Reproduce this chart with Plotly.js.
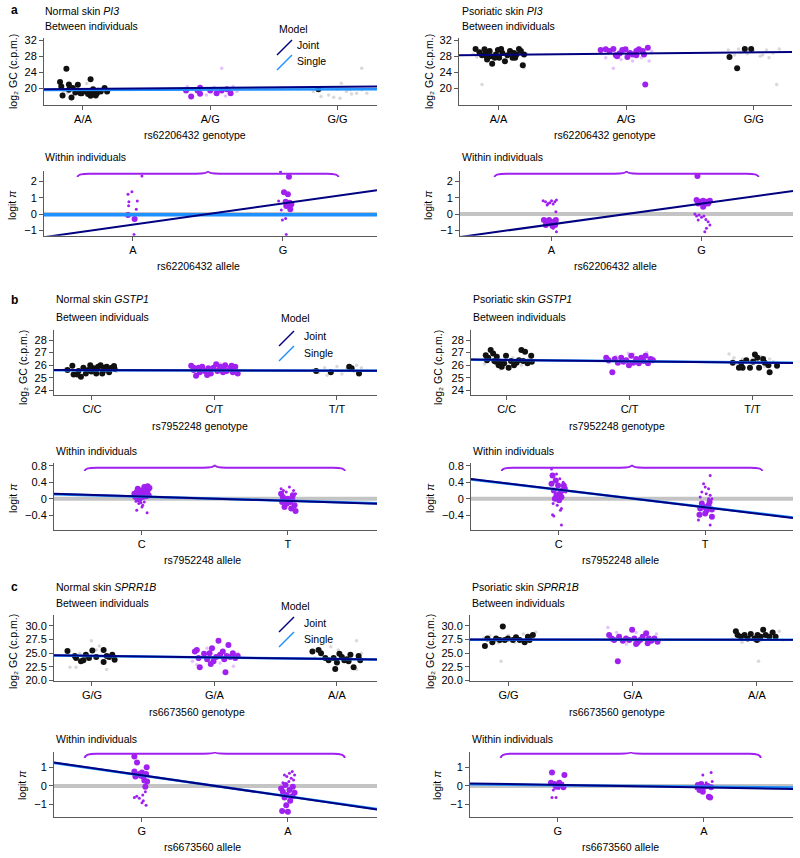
<!DOCTYPE html>
<html><head><meta charset="utf-8">
<script src="https://cdn.plot.ly/plotly-3.0.1.min.js"></script>
<style>html,body{margin:0;padding:0;background:#fff}#chart{width:800px;height:858px}</style>
</head><body><div id="chart"></div>
<script>
// ---------- categories ----------
const pi3Genotypes = ['A/A','A/G','G/G'];
const pi3Alleles = ['A','G'];
const gstp1Genotypes = ['C/C','C/T','T/T'];
const gstp1Alleles = ['C','T'];
const sprr1bGenotypes = ['G/G','G/A','A/A'];
const sprr1bAlleles = ['G','A'];

// ---------- PI3 normal, between individuals (jitter, log2 GC) per genotype ----------
const p1BigJ = [[-0.18,-0.17,-0.16,-0.13,-0.11,-0.11,-0.09,-0.08,-0.06,-0.04,-0.02,-0.01,0.04,0.06,0.08,0.06,0.08,0.11,0.14,0.17,0.19,0.045,0.10,0.02],[-0.19,-0.15,-0.10,-0.08,-0.08,0.0,0.05,0.09,0.16,0.13],[-0.15]];
const p1BigV = [[21.6,20.5,18.25,24.9,21.0,19.7,17.75,20.1,19.0,20.9,18.8,18.8,18.6,22.3,19.8,18.2,18.8,18.8,19.25,20.1,19.25,19.1,18.25,19.3],[19.5,18.0,19.5,18.7,20.2,19.5,18.8,19.5,18.8,19.8],[19.8]];
const p1SmallJ = [[-0.15,-0.05,0.03,0.12,0.18,-0.12],[0.09,0.05,0.18,-0.13,-0.03,0.03,0.12,0.21,-0.18,-0.09],[-0.19,-0.13,-0.07,-0.03,0.0,0.03,0.07,0.11,0.15,0.19,0.19,0.23,0.02,0.1]];
const p1SmallV = [[19.3,20.3,21.2,19.9,18.9,18.9],[25.0,19.7,20.5,19.8,18.4,20.3,18.1,19.25,20.5,19.8],[19.25,18.0,18.4,17.8,19.8,21.3,19.25,18.6,18.8,19.7,25.0,18.8,17.6,19.7]];
const p1Joint = [19.88,20.42];
const p1Single = [19.62,19.78];

// ---------- PI3 psoriatic, between ----------
const p2BigJ = [[-0.18,-0.15,-0.13,-0.10,-0.09,-0.07,-0.06,-0.05,-0.02,-0.005,0.005,0.03,0.05,0.07,0.09,0.11,0.12,0.14,0.16,0.175,0.19,0.2,0.13,-0.094,-0.03,0.02,-0.11],[-0.2,-0.16,-0.13,-0.1,-0.08,-0.05,-0.03,-0.005,0.01,0.03,0.05,0.08,0.1,0.13,0.14,0.17,0.15,0.08,-0.07],[-0.19,-0.13,-0.07,-0.02]];
const p2BigV = [[29.8,29.0,28.2,28.8,27.2,29.25,28.0,26.1,28.4,29.5,27.6,28.8,26.75,28.2,29.25,27.6,28.8,28.4,29.8,29.25,25.75,28.4,27.6,28.0,27.6,29.8,29.7],[29.5,29.7,29.25,29.8,28.2,28.7,29.5,29.7,27.8,28.8,28.4,29.25,29.7,29.25,28.4,30.1,21.0,28.2,28.0],[27.8,25.0,29.8,29.8]];
const p2SmallJ = [[-0.2,-0.17,-0.12,-0.05,0.0,0.08,0.15,0.22,0.2,-0.13],[-0.1,-0.04,0.05,-0.16,0.18,0.12,-0.2,0.2],[-0.2,-0.15,-0.1,-0.05,0.0,0.05,0.1,0.15,0.2,0.18,0.07,-0.12,0.12]];
const p2SmallV = [[28.5,27.8,29.4,28.9,28.0,29.0,27.9,28.6,25.1,21.0],[25.0,27.2,26.8,27.6,26.8,27.6,28.8,29.2],[29.5,28.3,29.0,28.6,29.2,28.0,29.5,28.8,29.8,21.0,28.3,29.8,27.6]];
const p2Joint = [28.35,28.96];
const p2Single = null;

// ---------- PI3 normal, within (jitter, logit pi) per allele ----------
const p3BigJ = [[-0.033,0.011],[0.007,0.033,0.018,0.044,0.022,0.049,0.04,0.027,0.056]];
const p3BigV = [[-0.06,-0.31],[1.33,1.22,0.76,0.69,0.49,0.29,2.29,0.55,0.6]];
const p3SmallJ = [[-0.033,-0.007,-0.027,-0.029,0.029,0.022,0.06,0.007],[-0.016,-0.029,-0.011,0.018,-0.004,0.022,0.051]];
const p3SmallV = [[1.22,1.37,0.76,0.51,0.8,0.29,2.33,-1.25],[2.6,0.8,0.25,-0.27,-0.37,-1.25,0.76]];
const p3Joint = [-0.65,0.65];
const p3Single = [-0.04,-0.04];

// ---------- PI3 psoriatic, within ----------
const p4BigJ = [[-0.051,-0.033,-0.016,0,0.016,0.029,-0.038,0.007,0.024],[-0.033,-0.022,-0.011,0,0.011,0.022,0.033,0.044,0.056,-0.027,0.011]];
const p4BigV = [[-0.37,-0.47,-0.37,-0.61,-0.47,-0.37,-0.67,-0.73,-0.67],[0.86,0.65,0.76,0.69,0.82,0.61,0.76,0.65,0.82,2.33,0.45]];
const p4SmallJ = [[-0.056,-0.04,-0.022,-0.011,0,0.011,0.022,0.033,0.029,0.033,0.011,-0.029],[-0.044,-0.033,-0.016,0,0.016,0.029,0.044,0.056,0.022,0.033,-0.022]];
const p4SmallV = [[0.82,0.76,0.65,0.69,0.82,0.61,0.76,0.86,0.14,-1.08,-0.88,0.55],[0,-0.12,-0.06,-0.2,-0.12,-0.33,-0.47,-0.67,-1.08,-0.88,-0.37]];
const p4Joint = [-0.635,0.635];
const p4Single = null;

// ---------- GSTP1 normal, between ----------
const p5BigJ = [[-0.2,-0.16,-0.15,-0.11,-0.09,-0.07,-0.05,-0.03,-0.005,0.016,0.035,0.05,0.07,0.09,0.1,0.12,0.14,0.16,0.18,0.185,-0.12,-0.014,0.084],[-0.19,-0.17,-0.15,-0.13,-0.12,-0.1,-0.08,-0.05,-0.03,-0.008,0.014,0.024,0.046,0.068,0.087,0.1,0.13,0.15,0.17,0.19,-0.06,-0.17,0.07,0.14],[-0.17,-0.05,0.1,0.12,0.18]];
const p5BigV = [[25.62,25.96,25.27,25.54,25.09,25.8,25.35,25.62,25.49,25.75,25.35,25.88,26.0,25.54,25.8,25.88,25.43,25.8,25.94,25.7,25.27,26.0,25.35],[25.96,25.62,25.17,25.8,25.43,25.88,25.54,25.75,25.35,25.8,26.07,25.54,25.88,25.7,26.0,25.54,25.8,25.43,25.88,25.35,25.22,25.8,25.43,25.96],[25.54,25.43,25.88,25.75,25.35]];
const p5SmallJ = [[-0.22,-0.1,0.0,0.12,0.2,-0.05],[-0.12,0.05,0.18,-0.02],[-0.2,-0.15,-0.1,-0.05,0.0,0.04,0.08,0.14,0.2,-0.08,0.16]];
const p5SmallV = [[25.7,25.55,25.9,25.6,25.5,25.3],[25.6,26.1,25.7,25.3],[25.6,25.4,25.8,25.5,25.9,25.3,25.7,25.5,25.8,25.2,26.0]];
const p5Joint = [25.61,25.56];
const p5Single = [25.6,25.57];

// ---------- GSTP1 psoriatic, between ----------
const p6BigJ = [[-0.17,-0.15,-0.13,-0.11,-0.1,-0.08,-0.065,-0.054,-0.04,-0.02,-0.005,0.016,0.035,0.06,0.08,0.1,0.12,0.135,0.15,0.17,0.2,0.205,-0.16,-0.087],[-0.19,-0.17,-0.14,-0.12,-0.095,-0.068,-0.05,-0.027,-0.005,0.014,0.03,0.054,0.076,0.095,0.114,0.13,0.15,0.17,0.19],[-0.16,-0.11,-0.09,-0.08,-0.05,-0.02,0.02,0.04,0.054,0.087,0.13,0.14,0.2,0.005,0.1]];
const p6BigV = [[26.8,26.6,27.2,26.94,26.33,26.68,26.0,26.28,25.88,26.15,26.76,25.8,26.33,26.0,26.2,26.4,27.2,26.33,27.07,26.15,26.76,26.28,26.4,26.28],[26.6,26.4,25.43,26.5,26.2,26.6,26.28,26.4,26.0,26.76,26.2,26.5,26.15,26.6,26.33,26.76,26.15,26.5,26.4],[26.2,25.8,26.2,25.8,26.4,25.8,26.86,26.6,25.8,26.5,26.0,25.43,25.96,26.28,26.2]];
const p6SmallJ = [[-0.18,-0.05,0.05,0.18,-0.1,0.12],[0.03,0.14,0.19,-0.11,-0.01,-0.17,0.08],[-0.19,-0.15,-0.08,0.0,0.14,0.17,0.07,-0.12,0.1,0.2]];
const p6SmallV = [[26.1,25.7,26.6,26.5,26.9,26.0],[26.9,27.0,26.6,26.7,26.95,26.2,26.1],[26.9,26.6,26.5,26.5,26.5,26.3,26.7,26.1,25.9,26.2]];
const p6Joint = [26.42,26.21];
const p6Single = [26.41,26.22];

// ---------- GSTP1 normal, within ----------
const p7BigJ = [[-0.05,-0.034,-0.02,-0.005,0.011,0.025,0.041,0.053,-0.043,-0.016,0.007,0.03,0.048,-0.027,0.018,0.041],[-0.046,-0.034,-0.016,0,0.016,0.034,0.046,-0.023,-0.007,0.023,0.053,-0.039,0.03]];
const p7BigV = [[0.12,0.16,0.08,0.2,0.12,0.24,0.2,0.26,0.04,-0.02,0.04,0.06,0.08,0.24,0.28,0.3],[0.12,0.04,-0.04,0,-0.08,0.08,-0.16,-0.2,-0.12,-0.24,-0.3,-0.08,-0.02]];
const p7SmallJ = [[-0.039,-0.02,-0.005,0.007,0.018,-0.034,0.037,0.002],[-0.046,-0.03,0.011,0.039,0.053,-0.011]];
const p7SmallV = [[-0.06,-0.12,-0.1,-0.16,-0.08,-0.28,-0.34,-0.2],[0.24,0.2,0.28,0.2,0.12,0.16]];
const p7Joint = [0.055,-0.054];
const p7Single = [0.05,-0.05];

// ---------- GSTP1 psoriatic, within ----------
const p8BigJ = [[-0.043,-0.021,-0.005,-0.034,0.007,0.025,0.034,-0.016,0.018,0.002,-0.027,0.041,-0.05],[-0.034,-0.007,0.023,0.046,-0.039,0,0.046,-0.023,0.03,0.011]];
const p8BigV = [[0.56,0.44,0.32,0.2,0.12,0.2,0.32,0.08,0.04,-0.04,0,0.24,0.36],[-0.24,-0.2,-0.16,-0.26,-0.39,-0.36,-0.44,-0.12,-0.08,-0.28]];
const p8SmallJ = [[-0.05,-0.016,0.007,0.03,-0.039,-0.011,0.018,-0.043,-0.034,0.011,0.018,0.048],[-0.011,0,0.023,0.034,-0.023,0.007,0.034,0.046,-0.046,0.034,-0.034,0.023]];
const p8SmallV = [[0.72,0.6,0.48,0.4,-0.12,-0.16,-0.24,-0.39,-0.42,-0.28,-0.64,0.16],[0.36,0.28,0.24,0.56,0.16,0.12,0.08,0,-0.52,-0.64,0.04,0]];
const p8Joint = [0.22,-0.21];
const p8Single = [0.215,-0.205];

// ---------- SPRR1B normal, between ----------
const p9BigJ = [[-0.2,-0.14,-0.13,-0.09,-0.07,-0.05,-0.024,0.003,0.035,0.095,0.095,0.12,0.14,0.166,0.185],[-0.16,-0.13,-0.12,-0.085,-0.06,-0.04,-0.02,-0.008,0.014,0.033,0.046,0.068,0.08,0.1,0.114,0.13,0.15,0.17,0.19,0.09,-0.144,-0.03],[-0.2,-0.15,-0.13,-0.095,-0.068,-0.014,0.0,0.02,0.04,0.06,0.08,0.095,0.136,0.177,0.19,-0.027,0.11]];
const p9BigV = [[25.4,24.5,24.1,23.5,23.7,24.7,24.1,25.5,24.3,25.6,23.4,24.5,24.3,24.7,23.8],[25.3,24.1,22.4,24.9,23.9,25.0,25.9,23.5,24.3,27.3,24.7,25.3,23.9,24.5,26.5,24.3,25.0,24.1,24.5,21.5,25.6,23.0],[25.3,25.6,25.0,24.1,23.7,22.1,23.3,24.9,24.3,23.7,23.9,23.5,22.4,24.5,23.7,24.1,24.7]];
const p9SmallJ = [[-0.18,-0.005,0.06,0.12,-0.1,0.035,0.16,-0.13],[-0.18,-0.144,0.155,0.19,0.046,-0.06],[0.16,-0.05,0.16,-0.18,0.2,0.01]];
const p9SmallV = [[22.4,27.3,26.3,22.0,25.0,25.6,24.9,22.4],[23.5,22.9,22.6,25.0,23.2,25.9],[27.3,26.2,22.0,24.1,25.0,25.6]];
const p9Joint = [24.51,23.94];
const p9Single = [24.5,23.95];

// ---------- SPRR1B psoriatic, between ----------
const p10BigJ = [[-0.19,-0.17,-0.13,-0.1,-0.07,-0.046,-0.03,-0.005,0.035,0.06,0.09,0.13,0.156,0.17,0.196],[-0.19,-0.17,-0.15,-0.12,-0.11,-0.08,-0.054,-0.027,-0.005,0.013,0.04,0.06,0.08,0.108,0.13,0.15,0.175,0.2,0.12,0.027],[-0.17,-0.156,-0.13,-0.1,-0.075,-0.05,-0.02,0.005,0.03,0.05,0.07,0.1,0.126,0.15,0.0]];
const p10BigV = [[26.3,27.7,27.0,27.7,27.4,29.9,27.4,27.7,27.4,27.9,27.4,27.0,28.0,27.4,28.35],[28.35,27.7,27.4,23.5,28.0,27.3,27.7,27.4,29.3,27.7,27.0,27.4,28.0,28.65,27.7,27.3,27.7,27.1,26.8,26.7],[29.0,28.35,28.0,28.35,27.7,28.5,27.7,28.35,28.0,29.3,28.35,28.0,28.8,28.0,27.4]];
const p10SmallJ = [[-0.06,-0.2,-0.15,-0.08,0.0,0.05,0.12,0.18,0.22],[-0.2,-0.13,0.027,0.19,-0.05],[0.013,-0.2,-0.12,-0.05,0.03,0.1,0.18,0.21]];
const p10SmallV = [[23.5,27.8,28.2,26.9,28.3,27.0,28.5,27.7,28.9],[29.7,28.8,28.8,28.5,26.7],[23.5,27.6,27.0,28.6,27.3,27.6,29.0,27.4]];
const p10Joint = [27.49,27.46];
const p10Single = [27.48,27.47];

// ---------- SPRR1B normal, within ----------
const p11BigJ = [[-0.05,-0.032,-0.05,-0.043,-0.016,0.002,0.011,0.034,0.03,0.018,0.037,0.025,-0.034,-0.005],[-0.046,-0.034,-0.023,-0.007,0.011,0.03,0.016,-0.011,-0.039,0,0.034,0.046,-0.016]];
const p11BigV = [[1.6,1.27,0.78,0.51,0.65,0.73,0.51,1.02,0.65,0.29,0.24,-0.04,0.6,0.55],[-0.13,-0.31,-0.62,-0.49,-0.22,-0.55,-0.8,-1.04,-1.35,-1.4,-0.04,-0.36,0.05]];
const p11SmallJ = [[-0.05,-0.034,-0.016,0.007,0.025,0.011,0.03,0.002],[-0.023,-0.007,0.011,0.03,0.046,-0.034,0.007,0.023,0.039]];
const p11SmallV = [[-0.62,-0.55,-0.67,-0.49,-0.31,-0.8,-1.04,-0.91],[0.6,0.51,0.69,0.78,0.6,0.18,0.24,0.42,0.33]];
const p11Joint = [0.58,-0.57];
const p11Single = [0.57,-0.56];

// ---------- SPRR1B psoriatic, within ----------
const p12BigJ = [[-0.039,0.046,-0.046,-0.023,0,0.023,0.039,-0.011,0.011],[-0.041,-0.018,0.005,0.027,0.05,0.043,0.034,-0.03,-0.007]];
const p12BigV = [[0.73,0.6,0.18,0.11,0,0.05,-0.07,-0.04,0.18],[0.05,0.11,-0.04,0,-0.07,-0.62,-0.58,-0.22,-0.31]];
const p12SmallJ = [[-0.039,-0.011,-0.03,0.034,0.007],[-0.007,0.05,0.016,-0.053,0.057]];
const p12SmallV = [[-0.62,-0.62,-0.22,0.15,-0.13],[0.6,0.73,0.18,-0.13,0.24]];
const p12Joint = [0.059,-0.077];
const p12Single = [0.04,-0.04];

// ---------- tick labels ----------
const gcTicksA = [20,24,28,32];
const gcTicksB = [24,25,26,27,28];
const gcTicksC = [20,22.5,25,27.5,30];
const logitTicksA = [-1,0,1,2];
const logitTicksB = [-0.4,0,0.4,0.8];
const logitTicksBText = ['\u22120.4','0','0.4','0.8'];
const logitTicksC = [-1,0,1];

// ---------- layout config ----------
const W = 800, H = 858;
const FONT = 'Liberation Sans, Arial, Helvetica, DejaVu Sans, sans-serif';
const PURPLE = '#A020F0', NAVY = '#000080', DODGER = '#1E90FF';

const panels = [
 {box:[44,377,38,105], xr:[-0.306,2.31], yr:[15.9,32.5], yt:gcTicksA, cats:pi3Genotypes, kind:'b', bj:p1BigJ, bv:p1BigV, sj:p1SmallJ, sv:p1SmallV, joint:p1Joint, single:p1Single},
 {box:[459,792,38,105], xr:[-0.31,2.30], yr:[15.9,32.5], yt:gcTicksA, cats:pi3Genotypes, kind:'b', bj:p2BigJ, bv:p2BigV, sj:p2SmallJ, sv:p2SmallV, joint:p2Joint, single:p2Single},
 {box:[44,377,170.7,235.7], xr:[-0.593,1.627], yr:[-1.33,2.66], yt:logitTicksA, cats:pi3Alleles, kind:'w', bj:p3BigJ, bv:p3BigV, sj:p3SmallJ, sv:p3SmallV, joint:p3Joint, single:p3Single, brace:[-0.37,1.37,2.27,2.48,2.64], singleW:3.5},
 {box:[460,793,170.7,235.7], xr:[-0.61,1.61], yr:[-1.33,2.66], yt:logitTicksA, cats:pi3Alleles, kind:'w', bj:p4BigJ, bv:p4BigV, sj:p4SmallJ, sv:p4SmallV, joint:p4Joint, single:p4Single, brace:[-0.38,1.38,2.27,2.48,2.64]},
 {box:[54,377,330,395], xr:[-0.31,2.327], yr:[23.63,28.8], yt:gcTicksB, cats:gstp1Genotypes, kind:'b', bj:p5BigJ, bv:p5BigV, sj:p5SmallJ, sv:p5SmallV, joint:p5Joint, single:p5Single},
 {box:[471,793,330,395], xr:[-0.29,2.33], yr:[23.63,28.8], yt:gcTicksB, cats:gstp1Genotypes, kind:'b', bj:p6BigJ, bv:p6BigV, sj:p6SmallJ, sv:p6SmallV, joint:p6Joint, single:p6Single},
 {box:[54,377,463,530], xr:[-0.6,1.61], yr:[-0.76,0.865], yt:logitTicksB, ytt:logitTicksBText, cats:gstp1Alleles, kind:'w', bj:p7BigJ, bv:p7BigV, sj:p7SmallJ, sv:p7SmallV, joint:p7Joint, single:p7Single, brace:[-0.39,1.39,0.67,0.75,0.82]},
 {box:[471,793,463,530], xr:[-0.6,1.6], yr:[-0.76,0.865], yt:logitTicksB, ytt:logitTicksBText, cats:gstp1Alleles, kind:'w', bj:p8BigJ, bv:p8BigV, sj:p8SmallJ, sv:p8SmallV, joint:p8Joint, single:p8Single, brace:[-0.39,1.39,0.67,0.75,0.82]},
 {box:[54,377,615,681], xr:[-0.31,2.327], yr:[19.9,32.0], yt:gcTicksC, yfmt:'.1f', cats:sprr1bGenotypes, kind:'b', bj:p9BigJ, bv:p9BigV, sj:p9SmallJ, sv:p9SmallV, joint:p9Joint, single:p9Single},
 {box:[470,793,615,681], xr:[-0.31,2.29], yr:[19.9,32.0], yt:gcTicksC, yfmt:'.1f', cats:sprr1bGenotypes, kind:'b', bj:p10BigJ, bv:p10BigV, sj:p10SmallJ, sv:p10SmallV, joint:p10Joint, single:p10Single},
 {box:[54,377,752,817], xr:[-0.6,1.61], yr:[-1.68,1.84], yt:logitTicksC, cats:sprr1bAlleles, kind:'w', bj:p11BigJ, bv:p11BigV, sj:p11SmallJ, sv:p11SmallV, joint:p11Joint, single:p11Single, brace:[-0.39,1.39,1.51,1.75,1.84]},
 {box:[470,793,752,817], xr:[-0.6,1.61], yr:[-1.68,1.84], yt:logitTicksC, cats:sprr1bAlleles, kind:'w', bj:p12BigJ, bv:p12BigV, sj:p12SmallJ, sv:p12SmallV, joint:p12Joint, single:p12Single, brace:[-0.39,1.39,1.51,1.75,1.84]}
];

const px = x => x / W;
const py = y => 1 - y / H;

const traces = [];
const layout = {
  width: W, height: H,
  margin: {l:0, r:0, t:0, b:0},
  paper_bgcolor: '#fff', plot_bgcolor: 'rgba(0,0,0,0)',
  showlegend: false,
  font: {family: FONT, size: 11, color: '#000'},
  shapes: [], annotations: []
};

function flat(groups, f) { const out = []; groups.forEach((g, gi) => g.forEach((v, k) => out.push(f(gi, k, v)))); return out; }

panels.forEach((p, i) => {
  const n = i + 1;
  const xa = 'x' + (n === 1 ? '' : n), ya = 'y' + (n === 1 ? '' : n);
  const axX = 'xaxis' + (n === 1 ? '' : n), axY = 'yaxis' + (n === 1 ? '' : n);
  const [l, r, t, b] = p.box;
  const common = {showline:true, linecolor:'#5a5a5a', linewidth:1, ticks:'outside', ticklen:4, tickcolor:'#5a5a5a',
    showgrid:false, zeroline:false, fixedrange:true, automargin:false, tickfont:{family:FONT, size:11, color:'#000'}};
  const catPos = p.cats.map((c, k) => k);
  layout[axX] = Object.assign({}, common, {domain:[px(l), px(r)], range:p.xr, anchor:ya, tickmode:'array', tickvals:catPos, ticktext:p.cats});
  layout[axY] = Object.assign({}, common, {domain:[py(b), py(t)], range:p.yr, anchor:xa, tickmode:'array', tickvals:p.yt,
    ticktext: p.ytt ? p.ytt : (p.yfmt ? p.yt.map(v => v.toFixed(1)) : p.yt.map(v => String(v).replace('-', '\u2212')))});

  // zero line for within panels
  if (p.kind === 'w') {
    traces.push({type:'scatter', mode:'lines', xaxis:xa, yaxis:ya, x:p.xr, y:[0,0], line:{color:'#c4c4c4', width:4}, hoverinfo:'skip'});
  }
  // small points
  const sx = flat(p.sj, (g, k, v) => g + v);
  const sy = flat(p.sv, (g, k, v) => v);
  const sc = flat(p.sj, (g) => p.kind === 'w' ? PURPLE : (g === 1 ? 'rgba(160,32,240,0.28)' : 'rgba(120,120,120,0.28)'));
  traces.push({type:'scatter', mode:'markers', xaxis:xa, yaxis:ya, x:sx, y:sy, cliponaxis:true,
    marker:{size: p.kind === 'w' ? 3 : 3.5, color:sc, line:{width:0}}, hoverinfo:'skip'});
  // big points
  const bx = flat(p.bj, (g, k, v) => g + v);
  const by = flat(p.bv, (g, k, v) => v);
  const bc = flat(p.bj, (g) => (p.kind === 'w' || g === 1) ? PURPLE : '#111');
  traces.push({type:'scatter', mode:'markers', xaxis:xa, yaxis:ya, x:bx, y:by, cliponaxis:true,
    marker:{size: 6, color:bc, line:{width:0}}, hoverinfo:'skip'});
  // fitted model lines, extended over the axis range
  const c0 = 0, c1 = p.cats.length - 1;
  const lineY = v => p.xr.map(x => v[0] + (v[1] - v[0]) * (x - c0) / (c1 - c0));
  if (p.single) traces.push({type:'scatter', mode:'lines', xaxis:xa, yaxis:ya, x:p.xr, y:lineY(p.single), line:{color:DODGER, width:p.singleW || 2.5}, hoverinfo:'skip'});
  traces.push({type:'scatter', mode:'lines', xaxis:xa, yaxis:ya, x:p.xr, y:lineY(p.joint), line:{color:NAVY, width:2}, hoverinfo:'skip'});

  // brace
  if (p.brace) {
    const [x0, x1, yE, yF, yP] = p.brace, xm = (x0 + x1) / 2, w = 0.08;
    layout.shapes.push({type:'path', xref:xa, yref:ya, line:{color:PURPLE, width:2},
      path:`M${x0},${yE} Q${x0},${yF} ${x0+w},${yF} L${xm-w},${yF} Q${xm},${yF} ${xm},${yP} Q${xm},${yF} ${xm+w},${yF} L${x1-w},${yF} Q${x1},${yF} ${x1},${yE}`});
  }
});

// ---------- texts ----------
function txt(x, y, text, opts) {
  layout.annotations.push(Object.assign({xref:'paper', yref:'paper', x:px(x), y:py(y), text:text, showarrow:false,
    xanchor:'left', yanchor:'middle', font:{family:FONT, size:10.5, color:'#000'}}, opts || {}));
}
// panel letters
txt(9, 10, '<b>a</b>', {font:{family:FONT, size:12, color:'#000'}});
txt(9, 300, '<b>b</b>', {font:{family:FONT, size:12, color:'#000'}});
txt(9, 587, '<b>c</b>', {font:{family:FONT, size:12, color:'#000'}});
// titles
txt(43, 11, 'Normal skin <i>PI3</i>');
txt(43, 26, 'Between individuals');
txt(460, 11, 'Psoriatic skin <i>PI3</i>');
txt(460, 26, 'Between individuals');
txt(43, 157, 'Within individuals');
txt(460, 157, 'Within individuals');
txt(54, 299, 'Normal skin <i>GSTP1</i>');
txt(54, 317, 'Between individuals');
txt(471, 299, 'Psoriatic skin <i>GSTP1</i>');
txt(471, 317, 'Between individuals');
txt(54, 451, 'Within individuals');
txt(471, 451, 'Within individuals');
txt(54, 587, 'Normal skin <i>SPRR1B</i>');
txt(54, 603, 'Between individuals');
txt(470, 587, 'Psoriatic skin <i>SPRR1B</i>');
txt(470, 603, 'Between individuals');
txt(54, 739, 'Within individuals');
txt(470, 739, 'Within individuals');
// x axis titles
const cx = {xanchor:'center'};
txt(195, 135, 'rs62206432 genotype', cx);
txt(605, 135, 'rs62206432 genotype', cx);
txt(198, 266, 'rs62206432 allele', cx);
txt(615, 266, 'rs62206432 allele', cx);
txt(200, 426, 'rs7952248 genotype', cx);
txt(617, 426, 'rs7952248 genotype', cx);
txt(203, 560, 'rs7952248 allele', cx);
txt(620, 560, 'rs7952248 allele', cx);
txt(197, 712, 'rs6673560 genotype', cx);
txt(617, 712, 'rs6673560 genotype', cx);
txt(202, 847, 'rs6673560 allele', cx);
txt(620, 847, 'rs6673560 allele', cx);
// y axis titles
const gcLab = 'log\u2082 GC (c.p.m.)', lgLab = 'logit <i>\u03c0</i>';
const rot = {xanchor:'center', textangle:-90};
txt(13, 72, gcLab, rot);  txt(429, 72, gcLab, rot);
txt(12, 205, lgLab, rot); txt(428, 205, lgLab, rot);
txt(23, 368, gcLab, rot); txt(438, 368, gcLab, rot);
txt(13, 498, lgLab, rot); txt(430, 498, lgLab, rot);
txt(13, 652, gcLab, rot); txt(430, 652, gcLab, rot);
txt(22, 785, lgLab, rot); txt(437, 785, lgLab, rot);

// ---------- model legends ----------
function legend(mx, my, lx0, jy, sy, tx) {
  txt(mx, my, 'Model');
  layout.shapes.push({type:'line', xref:'paper', yref:'paper', x0:px(lx0), y0:py(jy + 7.5), x1:px(lx0 + 15), y1:py(jy - 7.5), line:{color:NAVY, width:1.5}});
  layout.shapes.push({type:'line', xref:'paper', yref:'paper', x0:px(lx0), y0:py(sy + 7.5), x1:px(lx0 + 15), y1:py(sy - 7.5), line:{color:DODGER, width:1.5}});
  txt(tx, jy - 2, 'Joint');
  txt(tx, sy - 1, 'Single');
}
legend(277, 29, 277, 47.5, 62.5, 295);
legend(279, 318, 279, 338.5, 353.5, 302);
legend(279, 606, 279, 624.5, 639.5, 302);

Plotly.newPlot('chart', traces, layout, {displayModeBar:false, staticPlot:true});
</script>
</body></html>
